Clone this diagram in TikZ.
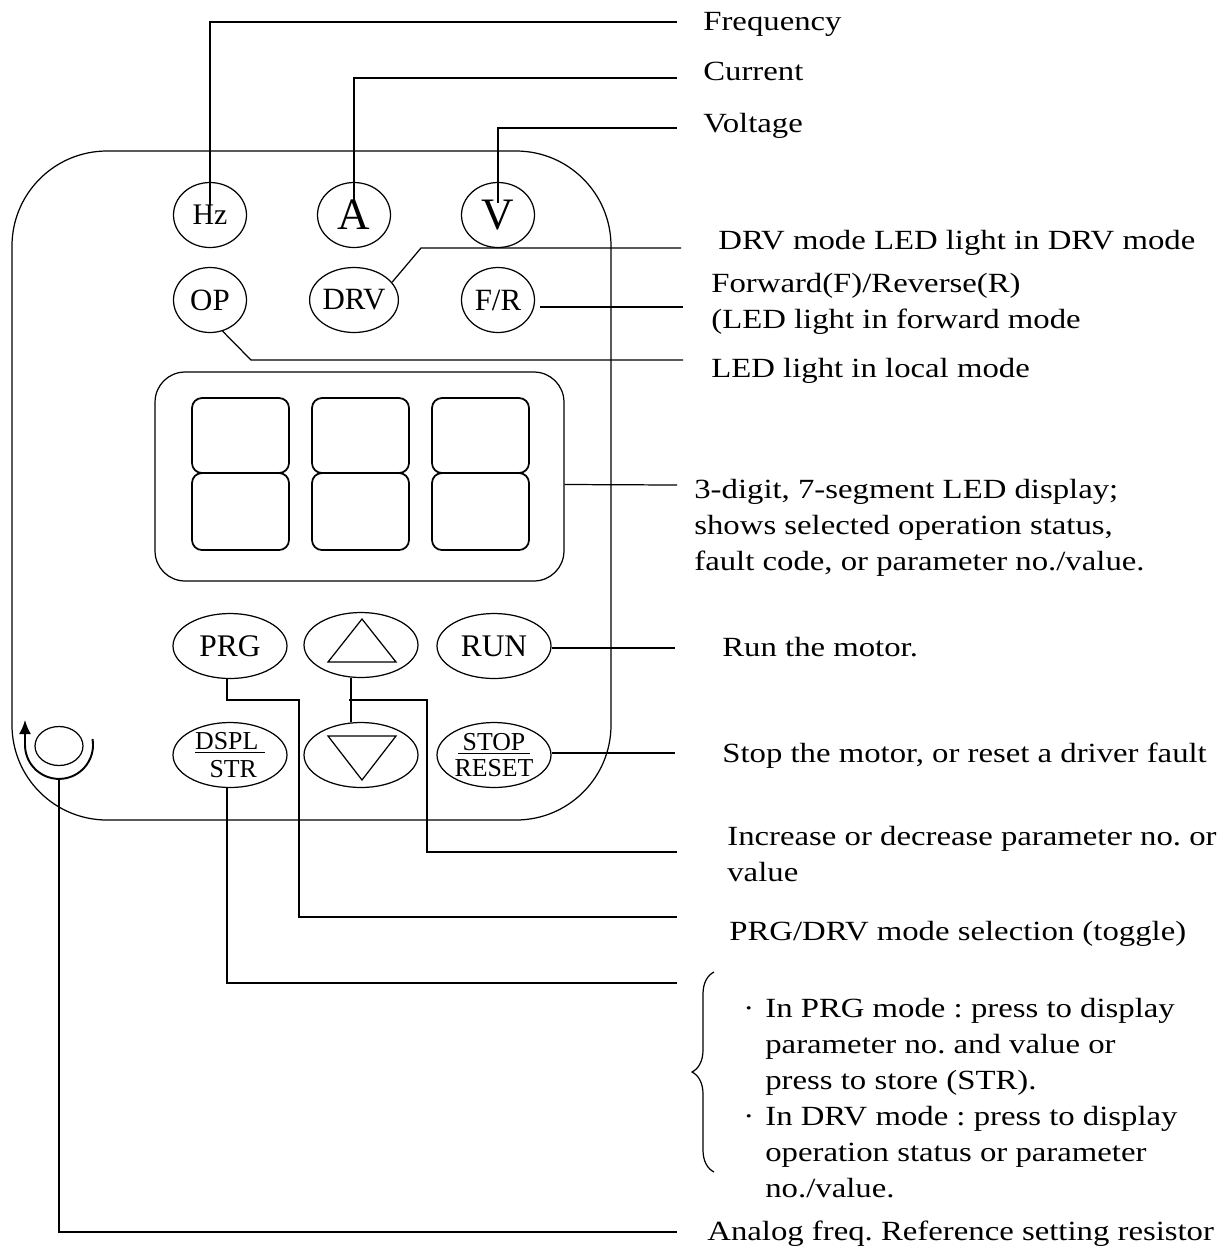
\documentclass[tikz,border=0pt]{standalone}
\usepackage{fontspec}
\setmainfont{Liberation Serif}[FakeStretch=1.18]
\newfontfamily\keyfont{Liberation Serif}
\usetikzlibrary{shapes.geometric,arrows.meta,calc,decorations.pathreplacing}
\frenchspacing
\tikzset{
  panel/.style = {draw, line width=0.7pt, rounded corners=1.9cm},
  lamp/.style  = {ellipse, draw, line width=0.7pt, minimum width=1.46cm, minimum height=1.3cm, inner sep=0, font=\keyfont\fontsize{17.6}{20}\selectfont},
  key/.style   = {ellipse, draw, line width=0.7pt, minimum width=2.28cm, minimum height=1.3cm, inner sep=0, font=\keyfont\fontsize{17.9}{20}\selectfont},
  twin/.style  = {align=center, font=\keyfont\fontsize{14.7}{16.5}\selectfont},
  seg/.style   = {draw, line width=1pt, rounded corners=0.2cm},
  link/.style  = {line width=0.7pt},
  lbl/.style   = {anchor=base west, inner sep=0, align=left, font=\fontsize{15.8}{20.4}\selectfont}
}

\begin{document}
\begin{tikzpicture}[x=0.02cm, y=-0.02cm]
  \useasboundingbox (0,0) rectangle (1226,1259);
  \draw[panel] (12,151) rectangle (611,820);

  \node[draw, line width=0.7pt, rounded corners=0.6cm, minimum width=8.18cm, minimum height=4.18cm] (lcd) at (359.5,476.5) {};
  \foreach \x in {192,312,432}{\draw[seg] (\x,398) rectangle ++(97,75); \draw[seg] (\x,473) rectangle ++(97,77);}

  \node[lamp, font=\keyfont\fontsize{17}{20}\selectfont]   (hz)   at (210,215) {Hz};
  \node[lamp, font=\keyfont\fontsize{25.6}{28}\selectfont] (amp)  at (354,215) {A};
  \node[lamp, font=\keyfont\fontsize{25.6}{28}\selectfont] (volt) at (498,215) {V};
  \node[lamp] (op)  at (210,300) {OP};
  \node[lamp] (drv) at (354,300) {DRV};
  \node[lamp] (fr)  at (498,300) {F/R};

  \node[key] (prg) at (230,646) {PRG};
  \node[key] (up)  at (361,645) {};
  \node[key] (run) at (494,646) {RUN};
  \node[key, twin] (dspl) at (230,755) {\underline{DSPL\ }\\[-1pt]\ STR};
  \node[key] (down) at (361,755) {};
  \node[key, twin] (stop) at (494,755) {\underline{\,STOP\,}\\[-2pt]RESET};
  \draw[link] ($(up)+(-33,17)$) -- ($(up)+(1,-26)$) -- ($(up)+(35,17)$) -- cycle;
  \draw[link] ($(down)+(-33,-19)$) -- ($(down)+(35,-19)$) -- ($(down)+(1,25)$) -- cycle;

  \node[draw, ellipse, line width=0.7pt, minimum width=0.96cm, minimum height=0.78cm, inner sep=0] (knob) at (59,746) {};
  \draw[line width=1.1pt, -{Latex[length=0.28cm,width=0.24cm]}] (92.5,739) arc[start angle=-10, end angle=180, radius=34] -- (25,720);
  \coordinate (kb) at (59,779);

  \node[lbl] (freq)  at (703,30)  {Frequency};
  \node[lbl] (curr)  at (703,80)  {Current};
  \node[lbl] (volts) at (703,132) {Voltage};
  \node[lbl] (drvt)  at (718,249) {DRV mode LED light in DRV mode};
  \node[lbl] (frt)   at (711,328) {Forward(F)/Reverse(R)\\(LED light in forward mode};
  \node[lbl] (opt)   at (711,377) {LED light in local mode};
  \node[lbl] (lcdt)  at (694,570) {3-digit, 7-segment LED display;\\shows selected operation status,\\fault code, or parameter no./value.};
  \node[lbl] (runt)  at (722,656) {Run the motor.};
  \node[lbl] (stopt) at (722,762) {Stop the motor, or reset a driver fault};
  \node[lbl] (updt)  at (727,881) {Increase or decrease parameter no. or\\value};
  \node[lbl] (prgt)  at (729,940) {PRG/DRV mode selection (toggle)};
  \node[lbl] (b1) at (743,1017) {·}; \node[lbl] (b2) at (743,1125) {·};
  \node[lbl] (dsplt) at (765,1197) {In PRG mode : press to display\\parameter no. and value or\\press to store (STR).\\In DRV mode : press to display\\operation status or parameter\\no./value.};
  \node[lbl] (anat)  at (707,1240) {Analog freq. Reference setting resistor};

  \coordinate (eHz) at (677,22);   \coordinate (eA) at (677,78);    \coordinate (eV) at (677,128);
  \coordinate (eDrv) at (681,248); \coordinate (eFr) at (683,307);  \coordinate (eOp) at (683,360);
  \coordinate (eLcd) at (677,485); \coordinate (eRun) at (675,648); \coordinate (eStop) at (675,753);
  \coordinate (eUd) at (677,852);  \coordinate (ePrg) at (677,917); \coordinate (eDsp) at (677,983);
  \coordinate (eKnob) at (677,1232);

  \draw[link] ($(hz)+(0,-10)$) |- (eHz);
  \draw[link] ($(amp)+(0,-12)$) |- (eA);
  \draw[link] ($(volt)+(0,-12)$) |- (eV);
  \draw[link] (drv.25) -- (421,248) -- (eDrv);
  \draw[link] ($(fr.east)+(5,7)$) -- (eFr);
  \draw[link] (op.-68) -- (251,360) -- (eOp);
  \draw[link] ($(lcd.east)+(0,8)$) -- (eLcd);
  \draw[link] ($(run.east)+(0,2)$) -- (eRun);
  \draw[link] ($(stop.east)+(0,-2)$) -- (eStop);
  \draw[link] ($(up.south)+(-10,0)$) -- ($(down.north)+(-10,0)$);
  \draw[link] (349,700) -| (427,852) -- (eUd);
  \draw[link] ($(prg.south)+(-3,0)$) |- (299,700) |- (ePrg);
  \draw[link] ($(dspl.south)+(-3,0)$) |- (eDsp);
  \draw[link] (kb) |- (eKnob);
  \draw[link, decorate, decoration={brace, amplitude=0.44cm}] (714,1172) -- (714,972);
\end{tikzpicture}
\end{document}
